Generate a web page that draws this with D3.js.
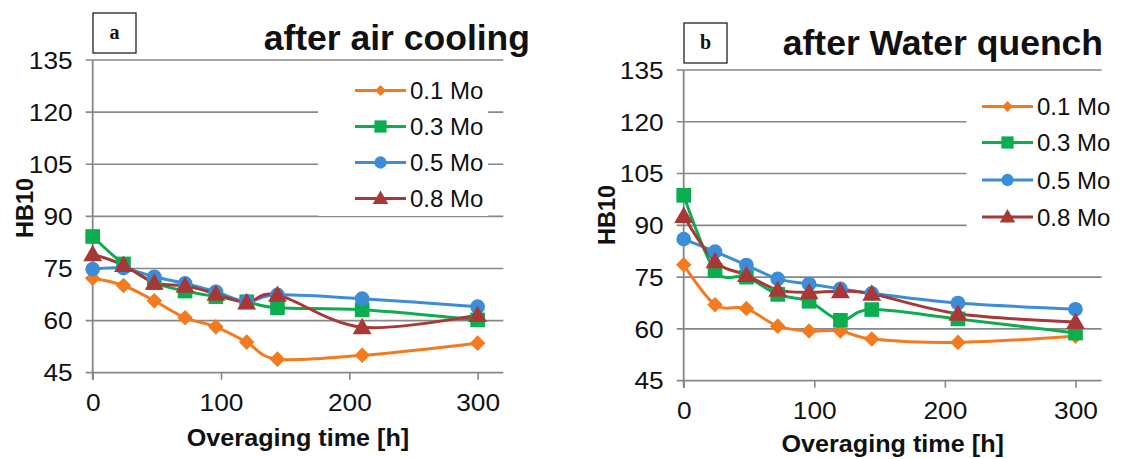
<!DOCTYPE html>
<html>
<head>
<meta charset="utf-8">
<script src="https://cdn.jsdelivr.net/npm/d3@7"></script>
<style>
  html, body { margin: 0; padding: 0; background: #fff; }
  svg { display: block; }
</style>
</head>
<body>
<svg id="chart" width="1121" height="459"></svg>
<script>
// Overaging time in hours (shared by every series)
const hours = [0, 24, 48, 72, 96, 120, 144, 210, 300];
const seriesNames = ["0.1 Mo", "0.3 Mo", "0.5 Mo", "0.8 Mo"];

// Hardness HB10 after air cooling
const airMo01 = [72.2, 70.1, 65.7, 60.8, 58.2, 53.8, 48.9, 50.0, 53.5];
const airMo03 = [84.2, 76.3, 70.9, 68.5, 66.9, 65.4, 63.7, 63.1, 60.2];
const airMo05 = [74.8, 75.1, 72.6, 70.7, 68.3, 65.5, 67.4, 66.3, 64.0];
const airMo08 = [79.1, 76.0, 70.9, 70.0, 67.7, 65.2, 67.4, 58.1, 61.6];

// Hardness HB10 after water quench
const waterMo01 = [78.6, 67.0, 65.9, 60.8, 59.4, 59.4, 57.1, 56.1, 57.9];
const waterMo03 = [98.7, 76.9, 75.0, 70.0, 68.0, 62.5, 65.6, 62.9, 58.8];
const waterMo05 = [86.0, 82.4, 78.5, 74.5, 73.0, 71.6, 70.3, 67.5, 65.7];
const waterMo08 = [92.7, 79.6, 75.6, 71.3, 70.6, 70.9, 70.2, 64.4, 62.0];

const yTicks = [45, 60, 75, 90, 105, 120, 135];
const xTicks = [0, 100, 200, 300];
const xDomain = [0, 320];
const yDomain = [45, 135];

const colors = ["#F37A1F", "#0BAE4F", "#3C8DD8", "#A83838"];
const shapes = [d3.symbolDiamond2, d3.symbolSquare, d3.symbolCircle, d3.symbolTriangle];
const markerArea = [155, 215, 170, 155];
const legendArea = [75, 150, 120, 105];

const SANS = "'Liberation Sans', Arial, sans-serif";
const GRID = "#878787";

const svg = d3.select("#chart");

// widen text glyphs horizontally around their anchor point
function stretch(sel, sx) {
  sel.each(function () {
    const t = d3.select(this);
    const tx = +t.attr("x") || 0, ty = +t.attr("y") || 0;
    t.attr("x", 0).attr("y", 0).attr("transform", `translate(${tx},${ty}) scale(${sx},1)`);
  });
}

const panels = [
  {
    tag: "a", title: "after air cooling",
    series: [airMo01, airMo03, airMo05, airMo08],
    left: 92.7, right: 503.3, top: 60, bottom: 372.7,
    tagBox: [93, 13, 43, 40], titleEnd: 530, titleBase: 50,
    legendBg: [318, 66, 170, 150], legendLine: [355, 406], legendText: 410,
    legendRows: [90.5, 126.5, 162.5, 198.5],
    xLabelBase: 411, xTitleBase: 446, yTitleX: 25, yTitleY: 208
  },
  {
    tag: "b", title: "after Water quench",
    series: [waterMo01, waterMo03, waterMo05, waterMo08],
    left: 683.7, right: 1101.6, top: 70, bottom: 380.7,
    tagBox: [684, 23, 43, 40], titleEnd: 1103, titleBase: 55,
    legendBg: [966.5, 76, 154, 155], legendLine: [982, 1033], legendText: 1037,
    legendRows: [106.5, 142.5, 180, 217],
    xLabelBase: 419, xTitleBase: 452, yTitleX: 607, yTitleY: 215
  }
];

panels.forEach(p => {
  const g = svg.append("g");
  const x = d3.scaleLinear().domain(xDomain).range([p.left, p.right]);
  const y = d3.scaleLinear().domain(yDomain).range([p.bottom, p.top]);

  // horizontal gridlines (extend a little left of the axis as tick marks)
  g.append("g").selectAll("line").data(yTicks.slice(1)).join("line")
    .attr("x1", p.left - 7).attr("x2", p.right)
    .attr("y1", d => y(d)).attr("y2", d => y(d))
    .attr("stroke", GRID).attr("stroke-width", 1.6);

  // y axis labels
  const yAxis = d3.axisLeft(y).tickValues(yTicks).tickSize(0).tickPadding(20);
  const ya = g.append("g").attr("transform", `translate(${p.left},0)`).call(yAxis);
  ya.select(".domain").remove();
  ya.selectAll("text").attr("font-family", SANS).attr("font-size", 23.5).attr("fill", "#111").attr("dy", "0.35em");
  stretch(ya.selectAll("text"), 1.12);

  // x axis
  const xAxis = d3.axisBottom(x).tickValues(xTicks).tickSize(7).tickPadding(0);
  const xa = g.append("g").attr("transform", `translate(0,${p.bottom})`).call(xAxis);
  xa.select(".domain").attr("d", `M${p.left - 7},0H${p.right}`).attr("stroke", GRID).attr("stroke-width", 1.8);
  xa.selectAll(".tick line").attr("stroke", GRID).attr("stroke-width", 1.6);
  xa.selectAll("text").attr("font-family", SANS).attr("font-size", 23.5).attr("fill", "#111")
    .attr("dy", 0).attr("y", p.xLabelBase - p.bottom);
  stretch(xa.selectAll("text"), 1.12);

  // vertical axis line
  g.append("line").attr("x1", p.left).attr("x2", p.left)
    .attr("y1", y(135)).attr("y2", p.bottom + 7)
    .attr("stroke", GRID).attr("stroke-width", 1.8);

  // legend background box hides part of the gridlines
  g.append("rect").attr("x", p.legendBg[0]).attr("y", p.legendBg[1])
    .attr("width", p.legendBg[2]).attr("height", p.legendBg[3]).attr("fill", "#fff");

  // data series
  const line = d3.line().x((d, i) => x(hours[i])).y(d => y(d)).curve(d3.curveCardinal.tension(0));
  p.series.forEach((vals, k) => {
    g.append("path").datum(vals).attr("d", line)
      .attr("fill", "none").attr("stroke", colors[k]).attr("stroke-width", 3)
      .attr("stroke-linejoin", "round");
  });
  p.series.forEach((vals, k) => {
    g.append("g").selectAll("path").data(vals).join("path")
      .attr("transform", (d, i) => `translate(${x(hours[i])},${y(d) + (k === 3 ? 1.5 : 0)})`)
      .attr("d", d3.symbol().type(shapes[k]).size(markerArea[k]))
      .attr("fill", colors[k]);
  });

  // legend
  seriesNames.forEach((name, k) => {
    const ry = p.legendRows[k];
    g.append("line").attr("x1", p.legendLine[0]).attr("x2", p.legendLine[1])
      .attr("y1", ry).attr("y2", ry).attr("stroke", colors[k]).attr("stroke-width", 3);
    g.append("path")
      .attr("transform", `translate(${(p.legendLine[0] + p.legendLine[1]) / 2},${ry + (k === 3 ? 1 : 0)})`)
      .attr("d", d3.symbol().type(shapes[k]).size(legendArea[k]))
      .attr("fill", colors[k]);
    g.append("text").attr("x", p.legendText).attr("y", ry).attr("dy", "0.36em")
      .attr("font-family", SANS).attr("font-size", 24).attr("fill", "#111").text(name);
  });

  // axis titles
  const xt = g.append("text").attr("x", (p.left + p.right) / 2).attr("y", p.xTitleBase)
    .attr("text-anchor", "middle").attr("font-family", SANS).attr("font-weight", "bold")
    .attr("font-size", 24).attr("fill", "#111").text("Overaging time [h]");
  stretch(xt, 1.05);
  g.append("text")
    .attr("transform", `translate(${p.yTitleX + 8},${p.yTitleY}) rotate(-90)`)
    .attr("text-anchor", "middle").attr("font-family", SANS).attr("font-weight", "bold")
    .attr("font-size", 23.5).attr("fill", "#111").text("HB10");

  // panel title
  g.append("text").attr("x", p.titleEnd).attr("y", p.titleBase).attr("text-anchor", "end")
    .attr("font-family", SANS).attr("font-weight", "bold").attr("font-size", 35.5)
    .attr("fill", "#111").text(p.title);

  // panel tag box
  g.append("rect").attr("x", p.tagBox[0]).attr("y", p.tagBox[1])
    .attr("width", p.tagBox[2]).attr("height", p.tagBox[3])
    .attr("fill", "#fff").attr("stroke", "#222").attr("stroke-width", 1.3);
  g.append("text").attr("x", p.tagBox[0] + p.tagBox[2] / 2).attr("y", p.tagBox[1] + p.tagBox[3] / 2)
    .attr("dy", "0.32em").attr("text-anchor", "middle")
    .attr("font-family", "'Liberation Serif', 'DejaVu Serif', serif").attr("font-weight", "bold")
    .attr("font-size", 20).attr("fill", "#111").text(p.tag);
});
</script>
</body>
</html>
